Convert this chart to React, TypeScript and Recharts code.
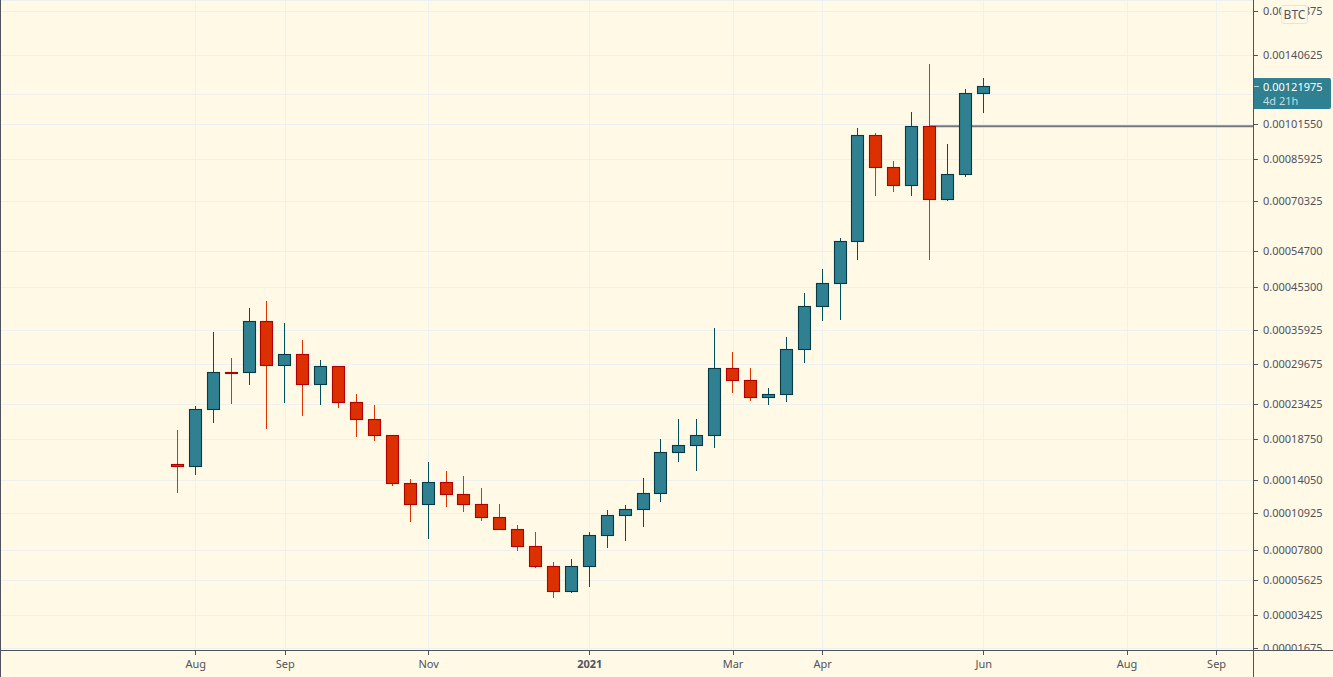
import React from 'react';
import { ComposedChart, Bar, XAxis, YAxis, CartesianGrid, ReferenceLine } from 'recharts';

const weeks = [
  '2020-05-25','2020-06-01','2020-06-08','2020-06-15','2020-06-22','2020-06-29','2020-07-06','2020-07-13','2020-07-20',
  '2020-07-27','2020-08-03','2020-08-10','2020-08-17','2020-08-24','2020-08-31','2020-09-07','2020-09-14','2020-09-21','2020-09-28',
  '2020-10-05','2020-10-12','2020-10-19','2020-10-26','2020-11-02','2020-11-09','2020-11-16','2020-11-23','2020-11-30','2020-12-07',
  '2020-12-14','2020-12-21','2020-12-28','2021-01-04','2021-01-11','2021-01-18','2021-01-25','2021-02-01','2021-02-08','2021-02-15',
  '2021-02-22','2021-03-01','2021-03-08','2021-03-15','2021-03-22','2021-03-29','2021-04-05','2021-04-12','2021-04-19','2021-04-26',
  '2021-05-03','2021-05-10','2021-05-17','2021-05-24','2021-05-31','2021-06-07',
  '2021-06-14','2021-06-21','2021-06-28','2021-07-05','2021-07-12','2021-07-19','2021-07-26','2021-08-02','2021-08-09','2021-08-16','2021-08-23','2021-08-30','2021-09-06','2021-09-13',
];
const firstCandle = 9;
const opens = [157.7,156.0,227.3,284.4,283.9,378.3,295.7,314.9,264.5,294.0,237.3,213.5,192.6,137.9,117.3,138.9,126.9,117.3,105.4,95.1,81.3,66.3,49.3,66.3,90.1,107.2,112.6,127.8,171.9,180.2,192.6,290.6,270.9,244.7,249.2,323.9,410.3,463.5,575.4,966.8,829.3,759.9,1009.0,709.5,801.6,1178.6];
const closes = [156.0,227.3,283.9,283.4,378.3,295.7,314.9,264.5,294.0,237.3,213.5,192.6,137.9,117.3,138.9,126.9,117.3,105.4,95.1,81.3,66.3,49.3,66.3,90.1,107.2,112.6,127.8,171.9,180.2,192.6,290.6,270.9,244.7,249.2,323.9,410.3,463.5,575.4,966.8,829.3,759.9,1009.0,709.5,801.6,1178.6,1219.75];
const highs = [199.3,231.6,356.8,308.3,406.6,422.1,374.9,341.3,304.8,294.0,249.6,233.4,192.6,142.3,160.8,150.8,145.5,133.1,117.6,98.7,92.8,69.4,71.6,92.8,112.0,116.6,143.4,187.9,213.9,213.9,364.7,319.0,291.1,258.8,347.0,440.4,499.4,585.1,1000.9,977.4,854.9,1079.5,1350.8,927.5,1202.5,1265.8];
const lows = [128.4,146.5,208.9,235.3,263.9,201.0,236.7,218.4,233.9,229.6,190.8,185.8,135.4,101.6,87.3,115.0,110.5,102.4,95.1,77.9,65.3,45.2,48.4,52.3,80.2,85.7,97.3,119.7,161.1,151.2,177.3,250.7,239.7,233.9,238.2,300.1,379.6,381.7,523.9,722.2,736.5,722.2,523.9,704.6,792.4,1076.0];
const unit = 1e-6;

const xTickWeeks = ['2020-08-03','2020-09-07','2020-11-02','2021-01-04','2021-03-01','2021-04-05','2021-06-07','2021-08-02','2021-09-06'];
const xTickLabels = ['Aug','Sep','Nov','2021','Mar','Apr','Jun','Aug','Sep'];
const yTicks = [0.00001675,0.00003425,0.00005625,0.000078,0.00010925,0.0001405,0.0001875,0.00023425,0.00029675,0.00035925,0.000453,0.000547,0.00070325,0.00085925,0.0010155,0.001172,0.00140625,0.00171875];
const unlabelledTick = 0.001172;
const lastPrice = 0.00121975;
const levelPrice = 0.001009;
const levelWeek = '2021-05-17';

const rows = weeks.map((week, i) => {
  const k = i - firstCandle;
  if (k < 0 || k >= opens.length) return { week };
  return {
    week,
    up: closes[k] > opens[k],
    wick: [lows[k] * unit, highs[k] * unit],
    body: [Math.min(opens[k], closes[k]) * unit, Math.max(opens[k], closes[k]) * unit],
  };
});

const OFFSET = 0.0001;
function offsetLog(d0: number[], r0: number[]) {
  let dom = d0, rng = r0;
  const t = (v: number) => Math.log(v + OFFSET);
  const s: any = (v: number) => rng[0] + ((rng[1] - rng[0]) * (t(v) - t(dom[0]))) / (t(dom[1]) - t(dom[0]));
  s.domain = (d?: number[]) => { if (d === undefined) return dom; dom = d; return s; };
  s.range = (r?: number[]) => { if (r === undefined) return rng; rng = r; return s; };
  s.copy = () => offsetLog([...dom], [...rng]);
  s.ticks = () => yTicks;
  s.tickFormat = () => (v: number) => String(v);
  return s;
}
const yScale = offsetLog([0.0000159, 0.0018119], [650, 0]);

const BG = '#FFF9E6';
const AXIS = '#50535E';
const FONT = '"Noto Sans", sans-serif';

const snap = (y: number) => Math.floor(y + 0.2) + 0.5;

function Wick(p: any) {
  if (!p.payload || !p.payload.wick) return null;
  const X = Math.floor(p.x + p.width / 2);
  const top = Math.min(p.y, p.y + p.height);
  const h = Math.abs(p.height);
  return <rect x={X} y={top} width={1} height={h} fill={p.payload.up ? '#004F5F' : '#DD3100'} shapeRendering="crispEdges" />;
}
function Body(p: any) {
  if (!p.payload || !p.payload.body) return null;
  const X = Math.floor(p.x + p.width / 2);
  const a = snap(Math.min(p.y, p.y + p.height));
  const b = Math.max(snap(Math.max(p.y, p.y + p.height)), a + 1);
  const up = p.payload.up;
  return <rect x={X - 5.5} y={a} width={12} height={b - a} fill={up ? '#2F8091' : '#DC3000'} stroke={up ? '#063A47' : '#B00000'} strokeWidth={1.1} />;
}
function YTick(p: any) {
  const v = p.payload.value;
  if (v === unlabelledTick) return null;
  return <text x={1263} y={p.y - 1} dominantBaseline="central" fontFamily={FONT} fontSize={11} fill={AXIS}>{v.toFixed(8)}</text>;
}
function XTick(p: any) {
  const i = xTickWeeks.indexOf(p.payload.value);
  const label = xTickLabels[i];
  return <text x={p.x} y={663} textAnchor="middle" dominantBaseline="central" fontFamily={FONT} fontSize={11} fontWeight={label === '2021' ? 700 : 400} fill={AXIS}>{label}</text>;
}
function LevelLine(p: any) {
  return <line x1={p.x1} y1={p.y1} x2={1253} y2={p.y2} stroke="#787878" strokeWidth={2} />;
}

export default function App() {
  return (
    <div style={{ position: 'absolute', left: 0, top: 0, width: 1333, height: 677, background: BG, overflow: 'hidden' }}>
      <style>{'.recharts-cartesian-grid line,.recharts-cartesian-axis line{shape-rendering:crispEdges}'}</style>
      <ComposedChart width={1333} height={677} data={rows} margin={{ top: 0, right: 0, bottom: 0, left: 0 }} barGap={0}>
        <XAxis xAxisId="main" dataKey="week" ticks={xTickWeeks} interval={0} height={27} padding={{ left: 7.7, right: 9.51 }} tick={<XTick />} tickLine={{ stroke: AXIS }} tickSize={5} axisLine={{ stroke: AXIS }} />
        <XAxis xAxisId="wick" dataKey="week" hide height={0} padding={{ left: 7.7, right: 9.51 }} />
        <YAxis yAxisId="p" orientation="right" width={80} type="number" scale={yScale} domain={[0.0000159, 0.0018119]} allowDataOverflow ticks={yTicks} interval={0} tick={<YTick />} tickLine={{ stroke: AXIS }} tickSize={5} axisLine={{ stroke: AXIS }} />
        <CartesianGrid xAxisId="main" yAxisId="p" stroke="#EDF2F0" strokeWidth={1} />
        <ReferenceLine xAxisId="main" yAxisId="p" zIndex={50} segment={[{ x: levelWeek, y: levelPrice }, { x: weeks[weeks.length - 1], y: levelPrice }]} shape={<LevelLine />} />
        <Bar xAxisId="wick" yAxisId="p" dataKey="wick" barSize={1} shape={<Wick />} isAnimationActive={false} />
        <Bar xAxisId="main" yAxisId="p" dataKey="body" barSize={13} shape={<Body />} isAnimationActive={false} />
      </ComposedChart>
      <div style={{ position: 'absolute', left: 1254, top: 651, width: 79, height: 26, background: BG }} />
      <div style={{ position: 'absolute', left: 0, top: 0, width: 1, height: 677, background: AXIS }} />
      <div style={{ position: 'absolute', left: 0, top: 650, width: 1333, height: 1, background: AXIS }} />
      <div style={{ position: 'absolute', left: 1253, top: 0, width: 1, height: 677, background: AXIS }} />
      <div style={{ position: 'absolute', left: 1254, top: 78, width: 77, height: 31, background: '#2F8091', borderRadius: '0 2px 2px 0', fontFamily: FONT, fontSize: 11, lineHeight: '13px' }}>
        <div style={{ position: 'absolute', left: 0, top: 8, width: 5, height: 1, background: '#B9D5DA' }} />
        <div style={{ position: 'absolute', left: 9, top: 2, color: '#FFFFFF' }}>{lastPrice.toFixed(8)}</div>
        <div style={{ position: 'absolute', left: 9, top: 16, color: '#C5DDE1' }}>4d 21h</div>
      </div>
      <div style={{ position: 'absolute', left: 1281, top: 5, width: 25, height: 17, background: BG, border: '1px solid #E0E3EB', borderRadius: 3, fontFamily: FONT, fontSize: 12, lineHeight: '17px', textAlign: 'center', color: AXIS }}>BTC</div>
    </div>
  );
}
